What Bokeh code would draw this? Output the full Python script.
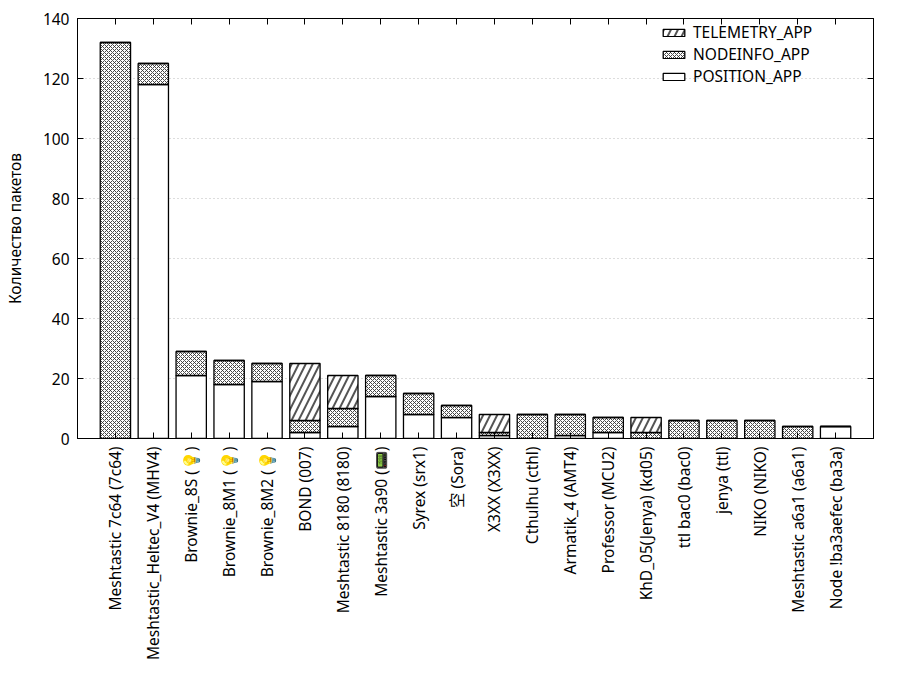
from bokeh.plotting import figure
from bokeh.models import ColumnDataSource, FixedTicker, LinearAxis, Legend, LegendItem, Range1d
from bokeh.embed import file_html
from bokeh.resources import INLINE
import math

names = [
    "Meshtastic 7c64 (7c64)", "Meshtastic_Heltec_V4 (MHV4)", "Brownie_8S (💡)",
    "Brownie_8M1 (💡)", "Brownie_8M2 (💡)", "BOND (007)", "Meshtastic 8180 (8180)",
    "Meshtastic 3a90 (📟)", "Syrex (srx1)", "空 (Sora)", "X3XX (X3XX)", "Cthulhu (cthl)",
    "Armatik_4 (AMT4)", "Professor (MCU2)", "KhD_05(Jenya) (kd05)", "ttl bac0 (bac0)",
    "jenya (ttl)", "NIKO (NIKO)", "Meshtastic a6a1 (a6a1)", "Node !ba3aefec (ba3a)",
]
position = [0, 118, 21, 18, 19, 2, 4, 14, 8, 7, 1, 0, 1, 2, 0, 0, 0, 0, 0, 4]
nodeinfo = [132, 7, 8, 8, 6, 4, 6, 7, 7, 4, 1, 8, 7, 5, 2, 6, 6, 6, 4, 0]
telemetry = [0, 0, 0, 0, 0, 19, 11, 0, 0, 0, 6, 0, 0, 0, 5, 0, 0, 0, 0, 0]
y_ticks = [0, 20, 40, 60, 80, 100, 120, 140]

FONT = "Noto Sans"
XFONT = "'Noto Sans', 'Noto Sans CJK SC', sans-serif"
FS = "15.5px"
xs = list(range(len(names)))
src = ColumnDataSource(dict(x=xs, POSITION_APP=position, NODEINFO_APP=nodeinfo, TELEMETRY_APP=telemetry))

p = figure(width=884, height=684, output_backend="svg", toolbar_location=None,
           x_range=Range1d(-1, len(names)), y_range=Range1d(0, 140),
           frame_width=796, frame_height=420,
           min_border_left=77, min_border_right=11, min_border_top=18, min_border_bottom=246)

rs = p.vbar_stack(["POSITION_APP", "NODEINFO_APP", "TELEMETRY_APP"], x="x", width=0.8, source=src,
                  fill_color=["white", "white", "white"], line_color="black", line_width=1.3,
                  hatch_pattern=[" ", "x", "/"], hatch_color=["black", "#333333", "#555555"],
                  hatch_scale=[4, 4, 14], hatch_weight=[0.5, 0.9, 2.0])

p.xaxis.ticker = FixedTicker(ticks=xs)
p.xaxis.major_label_overrides = {i: n for i, n in enumerate(names)}
p.xaxis.major_label_orientation = math.pi / 2
p.yaxis.ticker = FixedTicker(ticks=y_ticks)
p.yaxis.axis_label = "Количество пакетов"

for ax in [p.xaxis[0], p.yaxis[0]]:
    ax.major_label_text_font = FONT
    ax.major_label_text_font_size = FS
    ax.major_label_text_color = "black"
    ax.major_tick_in = 6
    ax.major_tick_out = 0
    ax.minor_tick_in = 0
    ax.minor_tick_out = 0
    ax.axis_line_color = "black"
    ax.major_tick_line_color = "black"
p.xaxis.major_label_text_font = XFONT
p.xaxis.major_label_standoff = 8
p.yaxis.major_label_standoff = 8
p.yaxis.axis_label_text_font = FONT
p.yaxis.axis_label_text_font_size = FS
p.yaxis.axis_label_text_font_style = "normal"
p.yaxis.axis_label_text_color = "black"
p.yaxis.axis_label_standoff = 14

top_ax = LinearAxis(ticker=FixedTicker(ticks=xs), major_label_overrides={i: "" for i in xs},
                    major_tick_in=6, major_tick_out=0, minor_tick_in=0, minor_tick_out=0)
right_ax = LinearAxis(ticker=FixedTicker(ticks=y_ticks), major_label_overrides={t: "" for t in y_ticks},
                      major_tick_in=6, major_tick_out=0, minor_tick_in=0, minor_tick_out=0)
p.add_layout(top_ax, "above")
p.add_layout(right_ax, "right")

p.xgrid.grid_line_color = None
p.ygrid.grid_line_color = "#bbbbbb"
p.ygrid.grid_line_dash = "1 3"
p.outline_line_color = "black"

legend = Legend(items=[
    LegendItem(label="TELEMETRY_APP", renderers=[rs[2]]),
    LegendItem(label="NODEINFO_APP", renderers=[rs[1]]),
    LegendItem(label="POSITION_APP", renderers=[rs[0]]),
], location=(583, 351))
legend.label_text_font = FONT
legend.label_text_font_size = FS
legend.label_text_color = "black"
legend.label_standoff = 6
legend.border_line_color = None
legend.background_fill_alpha = 0
legend.glyph_width = 27
legend.glyph_height = 9
legend.spacing = -3
legend.padding = 4
legend.margin = 0
legend.label_height = 19
p.add_layout(legend)

open("out.html", "w").write(file_html(p, INLINE))
